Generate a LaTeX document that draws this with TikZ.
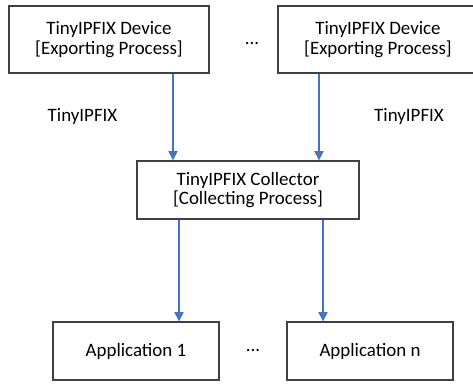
\documentclass[tikz,border=0pt]{standalone}
\usepackage{fontspec}
\setmainfont{Carlito}
\usetikzlibrary{arrows.meta, positioning}

\definecolor{flowblue}{HTML}{4472C4}
\definecolor{boxgray}{HTML}{404040}

\begin{document}
\begin{tikzpicture}[
			x=0.75pt, y=-0.75pt,
			box/.style={draw=boxgray, line width=1pt, align=center, inner sep=0pt, fill=white, font=\fontsize{14.2}{14.6}\selectfont},
			devbox/.style={box, minimum width=150pt, minimum height=50.25pt},
			collbox/.style={box, minimum width=166.5pt, minimum height=43.5pt},
			appbox/.style={box, minimum width=124.5pt, minimum height=43.5pt},
			lbl/.style={font=\fontsize{14.2}{14.6}\selectfont, inner sep=0pt},
			arrow/.style={-{Triangle[width=7pt,length=7pt]}, draw=flowblue, fill=flowblue, line width=0.8pt}
			]
			\useasboundingbox (0,0) rectangle (473,383);
			
			% --- Devices ---
			\node[devbox] (dev1) at (109,39.5) {TinyIPFIX Device\\{[}Exporting Process{]}};
			\node[devbox] (dev2) at (378,39.5) {TinyIPFIX Device\\{[}Exporting Process{]}};
			\node[lbl] (dots1) at (252,43) {...};
			
			% --- Collector ---
			\node[collbox] (coll) at (248,190) {TinyIPFIX Collector\\{[}Collecting Process{]}};
			
			% --- Applications ---
			\node[appbox] (app1) at (136,351) {Application 1};
			\node[appbox] (appn) at (370,351) {Application n};
			\node[lbl] (dots2) at (253,350) {...};
			
			% --- Protocol labels ---
			\node[lbl] (proto1) at (82.5,117) {TinyIPFIX};
			\node[lbl] (proto2) at (409,117) {TinyIPFIX};
			
			% --- Arrows ---
			\draw[arrow] (dev1.south -| 173,0) -- (coll.north -| 173,0);
			\draw[arrow] (dev2.south -| 319,0) -- (coll.north -| 319,0);
			\draw[arrow] (coll.south -| 179,0) -- (app1.north -| 179,0);
			\draw[arrow] (coll.south -| 323,0) -- (appn.north -| 323,0);
			
	\end{tikzpicture}
\end{document}
